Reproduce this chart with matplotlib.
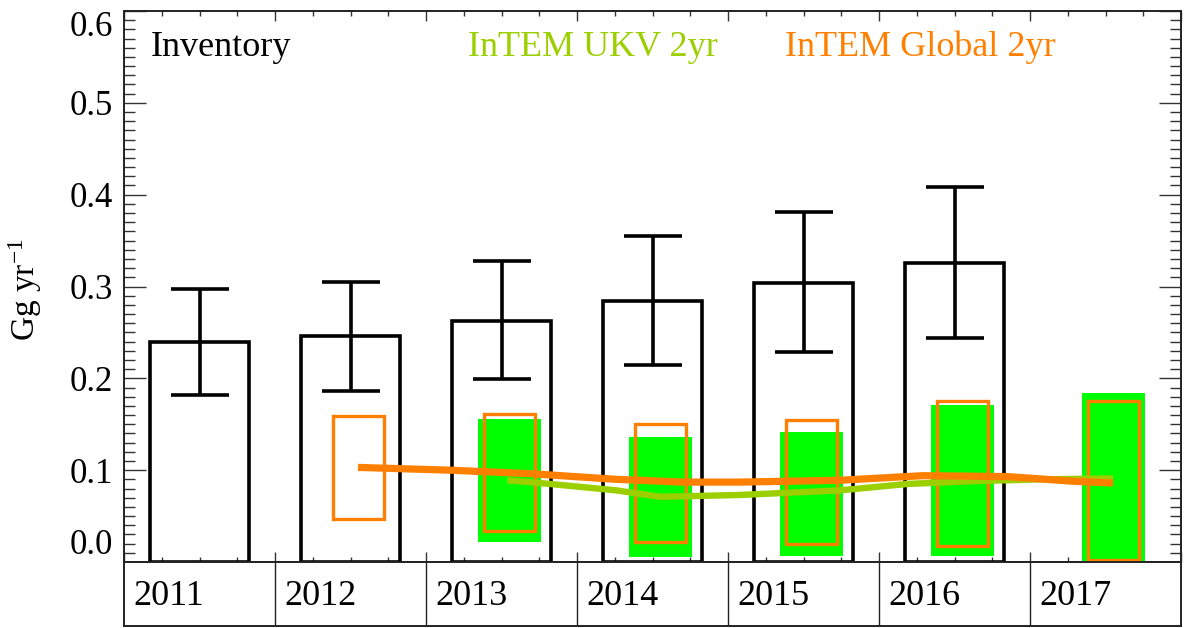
import matplotlib
matplotlib.use("Agg")
import matplotlib.pyplot as plt
from matplotlib.patches import Rectangle
from matplotlib.ticker import MultipleLocator

plt.rcParams['font.family'] = ['Liberation Serif', 'DejaVu Serif']
plt.rcParams['mathtext.fontset'] = 'custom'
plt.rcParams['mathtext.rm'] = 'Liberation Serif'
plt.rcParams['mathtext.it'] = 'Liberation Serif:italic'

# ---------------- data ----------------
inv_years = [2011, 2012, 2013, 2014, 2015, 2016]
inv_values = [0.240, 0.246, 0.262, 0.284, 0.304, 0.326]
inv_low = [0.182, 0.186, 0.199, 0.215, 0.229, 0.244]
inv_high = [0.297, 0.305, 0.328, 0.355, 0.381, 0.408]

ukv_years = [2013, 2014, 2015, 2016, 2017]
ukv_low = [0.022, 0.005, 0.0065, 0.0065, -0.01]
ukv_high = [0.156, 0.136, 0.142, 0.171, 0.184]

glob_years = [2012, 2013, 2014, 2015, 2016, 2017]
glob_low = [0.047, 0.034, 0.022, 0.020, 0.017, 0.002]
glob_high = [0.159, 0.161, 0.150, 0.155, 0.175, 0.175]

ukv_line_t = [2013.54, 2013.82, 2014.26, 2014.55, 2015.08, 2015.74,
              2016.19, 2016.62, 2017.07, 2017.55]
ukv_line = [0.089, 0.085, 0.078, 0.071, 0.073, 0.078,
            0.085, 0.088, 0.090, 0.091]

glob_line_t = [2012.55, 2013.16, 2013.71, 2014.26, 2014.70, 2015.08,
               2015.74, 2016.29, 2016.85, 2017.28, 2017.55]
glob_line = [0.103, 0.100, 0.096, 0.090, 0.087, 0.087,
             0.089, 0.094, 0.093, 0.088, 0.086]

table_years = [2011, 2012, 2013, 2014, 2015, 2016, 2017]

# ---------------- style ----------------
GREEN_FILL = '#00FF00'
GREEN_LINE = '#9BCF00'
ORANGE = '#FF8000'

W, H = 1184, 628
fig = plt.figure(figsize=(W / 100, H / 100), dpi=100)

ax_l, ax_r, ax_b, ax_t = 124, 1181, 562, 11
ax = fig.add_axes([ax_l / W, (H - ax_b) / H, (ax_r - ax_l) / W, (ax_b - ax_t) / H])
ax.set_xlim(2011, 2018)
ax.set_ylim(0, 0.6)

# inventory bars
centers = [y + 0.5 for y in inv_years]
ax.bar(centers, inv_values, width=0.662, fill=False, edgecolor='black',
       linewidth=2.6, zorder=2)
err_lo = [v - l for v, l in zip(inv_values, inv_low)]
err_hi = [h - v for v, h in zip(inv_values, inv_high)]
ax.errorbar(centers, inv_values, yerr=[err_lo, err_hi], fmt='none',
            ecolor='black', elinewidth=2.6, capsize=21, capthick=2.6, zorder=2)

# InTEM UKV boxes (filled)
for y, lo, hi in zip(ukv_years, ukv_low, ukv_high):
    w = 0.415
    ax.add_patch(Rectangle((y + 0.555 - w / 2, lo), w, hi - lo,
                           facecolor=GREEN_FILL, edgecolor='none', zorder=3))

# InTEM Global boxes (open)
for y, lo, hi in zip(glob_years, glob_low, glob_high):
    w = 0.337
    ax.add_patch(Rectangle((y + 0.555 - w / 2, lo), w, hi - lo,
                           facecolor='none', edgecolor=ORANGE, linewidth=2.4,
                           zorder=4))

ax.plot(ukv_line_t, ukv_line, color=GREEN_LINE, linewidth=4.6,
        solid_capstyle='butt', zorder=5)
ax.plot(glob_line_t, glob_line, color=ORANGE, linewidth=5.2,
        solid_capstyle='butt', zorder=6)

# text labels
ax.text(2011.18, 0.551, 'Inventory', color='black', fontsize=26, va='baseline', ha='left')
ax.text(2013.275, 0.551, 'InTEM UKV 2yr', color=GREEN_LINE, fontsize=26, va='baseline', ha='left')
ax.text(2015.377, 0.551, 'InTEM Global 2yr', color=ORANGE, fontsize=26, va='baseline', ha='left')

# ticks
ax.yaxis.set_major_locator(MultipleLocator(0.1))
ax.yaxis.set_minor_locator(MultipleLocator(0.01))
ax.xaxis.set_major_locator(MultipleLocator(1))
ax.xaxis.set_minor_locator(MultipleLocator(0.25))
ax.tick_params(axis='y', which='major', direction='in', length=15.5, width=1.0,
               left=True, right=True, labelsize=25, pad=8, color='#333333')
ax.tick_params(axis='y', which='minor', direction='in', length=8, width=1.0,
               left=True, right=True, color='#333333')
ax.tick_params(axis='x', which='major', direction='in', length=7.5, width=1.0,
               top=True, bottom=True, labelbottom=False, color='#333333')
ax.tick_params(axis='x', which='minor', direction='in', length=3.5, width=1.0,
               top=True, bottom=True, color='#333333')
ax.set_yticks([0.0, 0.1, 0.2, 0.3, 0.4, 0.5, 0.6])
ax.set_yticklabels(['0.0', '0.1', '0.2', '0.3', '0.4', '0.5', '0.6'])
ylabels = ax.get_yticklabels()
ylabels[0].set_va('bottom')
ylabels[-1].set_va('top')
for sp in ax.spines.values():
    sp.set_linewidth(1.4)
    sp.set_color('#222222')

fig.text(25 / W, 1 - 290 / H, 'Gg yr$^{-1}$', rotation=90, fontsize=24,
         ha='center', va='center')

# year table below
tb_top, tb_bot = 562, 626
tab = fig.add_axes([ax_l / W, (H - tb_bot) / H, (ax_r - ax_l) / W, (tb_bot - tb_top) / H])
tab.set_xlim(2011, 2018)
tab.set_ylim(0, 1)
tab.set_xticks([])
tab.set_yticks([])
for sp in tab.spines.values():
    sp.set_linewidth(1.4)
    sp.set_color('#222222')
for y in table_years:
    if y > 2011:
        tab.axvline(y, color='#222222', linewidth=1.0)
    tab.text(y + 0.06, 0.46, str(y), fontsize=26, ha='left', va='center')

fig.savefig('out.png', dpi=100)
